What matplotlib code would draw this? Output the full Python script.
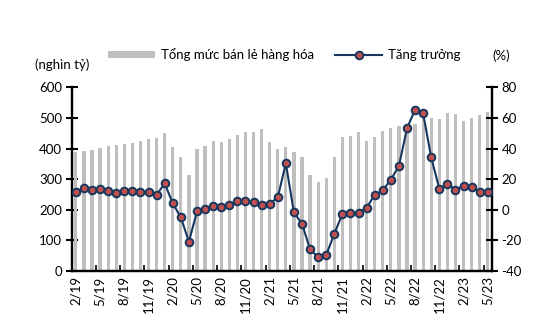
import numpy as np
import matplotlib
matplotlib.use("Agg")
import matplotlib.pyplot as plt
from matplotlib.patches import Patch
from matplotlib.lines import Line2D

plt.rcParams['font.family'] = ['Lato', 'Noto Sans', 'DejaVu Sans']
plt.rcParams['axes.unicode_minus'] = False

# Monthly data, 2/2019 - 5/2023
months = ['2/19', '3/19', '4/19', '5/19', '6/19', '7/19', '8/19', '9/19', '10/19', '11/19', '12/19',
          '1/20', '2/20', '3/20', '4/20', '5/20', '6/20', '7/20', '8/20', '9/20', '10/20', '11/20', '12/20',
          '1/21', '2/21', '3/21', '4/21', '5/21', '6/21', '7/21', '8/21', '9/21', '10/21', '11/21', '12/21',
          '1/22', '2/22', '3/22', '4/22', '5/22', '6/22', '7/22', '8/22', '9/22', '10/22', '11/22', '12/22',
          '1/23', '2/23', '3/23', '4/23', '5/23']

# Retail sales of goods (thousand billion VND)
retail = [389, 392, 396, 402, 408, 412, 415, 419, 423, 430, 433,
          450, 406, 371, 313, 398, 408, 424, 422, 432, 445, 453, 454,
          464, 421, 400, 406, 388, 371, 313, 289, 302, 373, 437, 441,
          454, 425, 438, 458, 466, 474, 477, 480, 500, 501, 496, 517,
          513, 491, 501, 510, 519]

# Year-on-year growth (%)
growth = [11.5, 13.9, 13.0, 13.5, 12.2, 11.1, 12.0, 12.0, 11.5, 11.3, 9.6,
          17.2, 4.1, -5.1, -21.0, -1.1, 0.4, 2.6, 1.9, 3.0, 5.4, 5.6, 5.0,
          3.2, 3.9, 8.0, 30.3, -1.8, -9.2, -26.0, -31.2, -29.7, -15.8, -2.9, -2.4,
          -2.0, 1.3, 9.6, 12.6, 19.6, 28.5, 53.2, 65.4, 63.0, 34.2, 13.7, 17.0,
          13.0, 15.6, 14.6, 11.7, 11.5]

bar_color = '#BFBFBF'
line_color = '#17375E'
marker_color = '#C0504D'
fs = 9.5

x = np.arange(len(months))

fig = plt.figure(figsize=(5.44, 3.31), dpi=100)
ax = fig.add_axes([0.132, 0.182, 0.772, 0.554])
ax2 = ax.twinx()

ax.bar(x, retail, width=0.4, color=bar_color, zorder=2)
ax2.plot(x, growth, color=line_color, lw=1.5, marker='o', markersize=5.5,
         markerfacecolor=marker_color, markeredgecolor=line_color, markeredgewidth=1.4, zorder=3)

ax.set_xlim(-0.5, len(months) - 0.5)
ax.set_ylim(0, 600)
ax.set_yticks(range(0, 601, 100))
ax2.set_ylim(-40, 80)
ax2.set_yticks(range(-40, 81, 20))

# x labels every 3 months, tick marks on category boundaries
ax.set_xticks(x[::3])
ax.set_xticklabels(months[::3], rotation=90, fontsize=fs)
ax.tick_params(axis='x', which='major', length=0, pad=4)
ax.set_xticks(x[3::3] - 0.5, minor=True)
ax.tick_params(axis='x', which='minor', direction='in', length=4, width=1.2)

ax.tick_params(axis='y', direction='inout', length=8, width=1.5, labelsize=fs, pad=3)
ax2.tick_params(axis='y', direction='inout', length=8, width=1.5, labelsize=fs, pad=3)

for a in (ax, ax2):
    a.spines['top'].set_visible(False)
    for s in ('left', 'right', 'bottom'):
        a.spines[s].set_linewidth(1.6)

fig.text(0.065, 0.805, '(nghìn tỷ)', fontsize=fs, ha='left', va='center')
fig.text(0.905, 0.832, '(%)', fontsize=fs, ha='left', va='center')

handles = [Patch(facecolor=bar_color, edgecolor='none'),
           Line2D([], [], color=line_color, lw=1.5, marker='o', markersize=5.5,
                  markerfacecolor=marker_color, markeredgecolor=line_color, markeredgewidth=1.4)]
fig.legend(handles, ['Tổng mức bán lẻ hàng hóa', 'Tăng trưởng'], loc='center',
           bbox_to_anchor=(0.522, 0.835), ncol=2, frameon=False, fontsize=fs,
           handlelength=3.6, handleheight=0.5, handletextpad=0.4, columnspacing=1.6)

fig.savefig('out.png', dpi=100)
